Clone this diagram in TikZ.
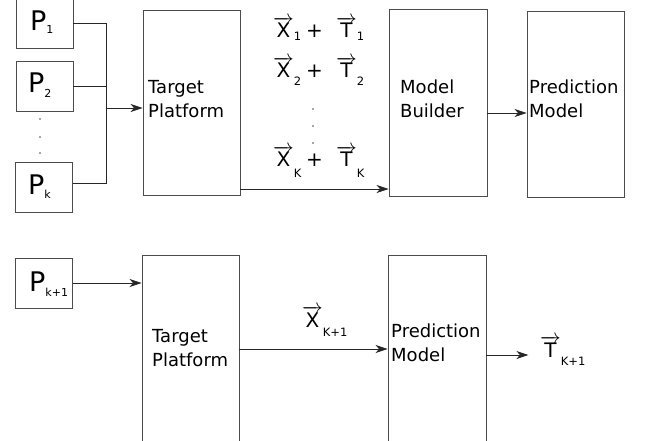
\documentclass[tikz,border=0pt]{standalone}
\usepackage{fontspec}
\setmainfont{DejaVu Sans}
\usetikzlibrary{arrows.meta}

% letter with a vector arrow and a small, lowered index
\newcommand\veclab[3]{$\overrightarrow{\mbox{#1}}$\raisebox{-#3pt}{\fontsize{11.5}{11.5}\selectfont #2}}
% large program name with small index
\newcommand\prog[3]{{\fontsize{27}{27}\selectfont P}\raisebox{-#3pt}{\fontsize{11}{11}\selectfont #2}}

\tikzset{
  box/.style={draw=black!70, line width=0.9pt, rectangle, inner sep=0pt},
  boxtext/.style={anchor=west, align=left, inner sep=0pt,
                  font=\fontsize{18}{24}\selectfont},
  lab/.style={anchor=base west, inner sep=0pt, font=\fontsize{20}{20}\selectfont},
  wire/.style={draw=black!85, line width=0.8pt},
  arr/.style={wire, -{Stealth[length=12pt,width=8pt,inset=3.5pt]}},
  dotmark/.style={circle, fill=black!70, inner sep=0pt, minimum size=1.6pt}
}

\begin{document}
\begin{tikzpicture}[x=1pt,y=-1pt]
\useasboundingbox (0,0) rectangle (648,441);

% ---------- training phase ----------
\node[box, minimum width=57pt, minimum height=50pt] (p1) at (44.5,23) {};
\node[box, minimum width=57pt, minimum height=50pt] (p2) at (44.5,86) {};
\node[box, minimum width=57pt, minimum height=50pt] (pk) at (44,187) {};
\node[anchor=base west, inner sep=0pt] (p1t) at (30,31) {\prog{P}{1}{3}};
\node[anchor=base west, inner sep=0pt] (p2t) at (28,93) {\prog{P}{2}{5}};
\node[anchor=base west, inner sep=0pt] (pkt) at (28,194) {\prog{P}{k}{4}};
\node[dotmark] (ld1) at (40,119) {};
\node[dotmark] (ld2) at (40,137) {};
\node[dotmark] (ld3) at (40,153) {};

\node[box, minimum width=97pt, minimum height=185pt] (tp1) at (191.5,102.5) {};
\node[boxtext] (tp1t) at (148,99) {Target\\Platform};

\node[box, minimum width=98pt, minimum height=187pt] (mb) at (438,102.5) {};
\node[boxtext] (mbt) at (400,99) {Model\\Builder};

\node[box, minimum width=97pt, minimum height=186pt] (pm1) at (575.5,104) {};
\node[boxtext] (pm1t) at (529,99) {Prediction\\Model};

% feature/target pairs
\node[lab] (x1) at (273,38) {\veclab{X}{1}{3}};
\node[lab] (pl1) at (306,38) {+};
\node[lab] (t1) at (336,38) {\veclab{T}{1}{3}};
\node[lab] (x2) at (273,78) {\veclab{X}{2}{8}};
\node[lab] (pl2) at (306,78) {+};
\node[lab] (t2) at (336,78) {\veclab{T}{2}{8}};
\node[dotmark] (md1) at (313,109) {};
\node[dotmark] (md2) at (313,126) {};
\node[dotmark] (md3) at (313,143) {};
\node[lab] (xk) at (273,167) {\veclab{X}{K}{10}};
\node[lab] (plk) at (306,167) {+};
\node[lab] (tk) at (336,167) {\veclab{T}{K}{10}};

% wires
\coordinate (jn) at (106,108);
\draw[wire] (p1.east) -| (jn);
\draw[wire] (p2.east) -| (jn);
\draw[wire] ([yshift=4pt]pk.east) -| (jn);
\draw[arr] (jn) -- (jn -| tp1.west);
\draw[arr] ([yshift=-86.5pt]tp1.east) -- ([yshift=-86.5pt]tp1.east -| mb.west);
\draw[arr] ([yshift=-10.5pt]mb.east) -- ([yshift=-10.5pt]mb.east -| pm1.west);

% ---------- prediction phase ----------
\node[box, minimum width=57pt, minimum height=50pt] (pn) at (44,283) {};
\node[anchor=base west, inner sep=0pt] (pnt) at (29,291) {\prog{P}{k+1}{5}};

\node[box, minimum width=97pt, minimum height=200pt] (tp2) at (190.5,355) {};
\node[boxtext] (tp2t) at (152,348) {Target\\Platform};

\node[box, minimum width=98pt, minimum height=200pt] (pm2) at (437,355) {};
\node[boxtext] (pm2t) at (391,343) {Prediction\\Model};

\node[lab] (xn) at (302,327) {\veclab{X}{K+1}{9}};
\node[lab] (tn) at (540,357) {\veclab{T}{K+1}{8}};

\draw[arr] (pn.east) -- (pn.east -| tp2.west);
\draw[arr] ([yshift=6pt]tp2.east) -- ([yshift=6pt]tp2.east -| pm2.west);
\draw[arr] (pm2.east) -- ++(42,0) coordinate (tend);

\end{tikzpicture}
\end{document}
